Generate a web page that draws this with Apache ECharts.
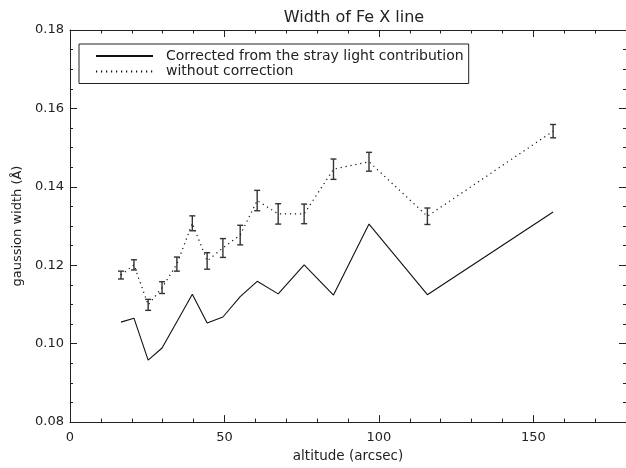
<!DOCTYPE html>
<html>
<head>
<meta charset="utf-8">
<script src="https://cdn.jsdelivr.net/npm/echarts@6/dist/echarts.min.js"></script>
<style>html,body{margin:0;padding:0;background:#fff;}#c{width:626px;height:468px;}</style>
</head>
<body>
<div id="c"></div>
<script>
const titleText = 'Width of Fe X line';
const xName = 'altitude (arcsec)';
const yName = 'gaussion width (Å)';
const seriesNames = ['Corrected from the stray light contribution', 'without correction'];

const altitude = [16.5, 20.7, 25.3, 29.8, 34.6, 39.6, 44.4, 49.5, 55.1, 60.6, 67.4, 75.8, 85.3, 96.8, 115.7, 156.4];
const corrected = [0.1055, 0.1065, 0.0958, 0.0989, 0.1056, 0.1126, 0.1053, 0.1068, 0.1120, 0.1159, 0.1127, 0.1201, 0.1124, 0.1305, 0.1125, 0.1336];
const uncorrected = [0.1175, 0.1201, 0.1099, 0.1143, 0.1203, 0.1307, 0.1211, 0.1244, 0.1277, 0.1365, 0.1331, 0.1331, 0.1445, 0.1464, 0.1325, 0.1542];
const uncorrErr = [0.0010, 0.0013, 0.0014, 0.0015, 0.0018, 0.0019, 0.0021, 0.0024, 0.0025, 0.0026, 0.0026, 0.0025, 0.0026, 0.0024, 0.0021, 0.0017];

const xMin = 0, xMax = 180, xMajor = 50, xMinor = 10;
const yMin = 0.08, yMax = 0.18, yMajor = 0.02;

const FONT = 'DejaVu Sans';
const INK = '#222';

const chart = echarts.init(document.getElementById('c'), null, {renderer: 'canvas'});

function xAxisDef(pos, interval, tickLen, showLabel, showLine) {
  return {
    type: 'value', position: pos, min: xMin, max: xMax, interval: interval,
    gridIndex: 0,
    name: (showLabel ? xName : ''), nameLocation: 'middle', nameGap: 24,
    nameTextStyle: {fontFamily: FONT, fontSize: 13.5, color: INK},
    axisLine: {show: showLine, onZero: false, lineStyle: {color: INK, width: 1}},
    axisTick: {show: true, inside: true, length: tickLen, lineStyle: {color: INK, width: 1}},
    axisLabel: {show: showLabel, margin: 9, fontFamily: FONT, fontSize: 13, color: INK, showMaxLabel: false},
    splitLine: {show: false}
  };
}
function yAxisDef(pos, showLabel) {
  return {
    type: 'value', position: pos, min: yMin, max: yMax, interval: yMajor,
    name: (showLabel ? yName : ''), nameLocation: 'middle', nameGap: 38, nameRotate: 90,
    nameTextStyle: {fontFamily: FONT, fontSize: 13, color: INK},
    axisLine: {show: true, onZero: false, lineStyle: {color: INK, width: 1}},
    axisTick: {show: true, inside: true, length: 7, lineStyle: {color: INK, width: 1}},
    minorTick: {show: true, splitNumber: 4, length: 3, lineStyle: {color: INK, width: 1}},
    axisLabel: {show: showLabel, margin: 6, fontFamily: FONT, fontSize: 13, color: INK,
      formatter: v => v.toFixed(2)},
    splitLine: {show: false}, minorSplitLine: {show: false}
  };
}

const errData = altitude.map((a, i) => [a, uncorrected[i], uncorrErr[i]]);

chart.setOption({
  animation: false,
  backgroundColor: '#fff',
  title: {text: titleText, left: 349, top: 5, textAlign: 'center',
    textStyle: {fontFamily: FONT, fontSize: 16, fontWeight: 'normal', color: INK}},
  grid: {left: 70, top: 30, width: 559.6, height: 396, containLabel: false},
  legend: {
    left: 79, top: 44, orient: 'vertical',
    data: seriesNames,
    itemWidth: 57, itemHeight: 14, itemGap: 1.5,
    padding: [5, 5, 5, 16],
    borderColor: INK, borderWidth: 1,
    selectedMode: false,
    itemStyle: {opacity: 0},
    textStyle: {fontFamily: FONT, fontSize: 14, color: INK, padding: [0, 0, 0, 8]}
  },
  xAxis: [
    xAxisDef('bottom', xMajor, 7, true, true),
    xAxisDef('bottom', xMinor, 3.5, false, false),
    xAxisDef('top', xMajor, 7, false, true),
    xAxisDef('top', xMinor, 3.5, false, false)
  ],
  yAxis: [yAxisDef('left', true), yAxisDef('right', false)],
  series: [
    {
      name: seriesNames[0], type: 'line', xAxisIndex: 0, yAxisIndex: 0,
      data: altitude.map((a, i) => [a, corrected[i]]),
      symbol: 'none', showSymbol: false,
      lineStyle: {color: '#111', width: 1.1, type: 'solid'},
      itemStyle: {color: '#111'}
    },
    {
      name: seriesNames[1], type: 'line', xAxisIndex: 0, yAxisIndex: 0,
      data: altitude.map((a, i) => [a, uncorrected[i]]),
      symbol: 'none', showSymbol: false,
      lineStyle: {color: '#111', width: 1.2, type: [1.2, 3.8]},
      itemStyle: {color: '#111'}
    },
    {
      name: 'errors', type: 'custom', xAxisIndex: 0, yAxisIndex: 0,
      data: errData,
      renderItem: function (params, api) {
        const x = api.value(0), y = api.value(1), e = api.value(2);
        const t = api.coord([x, y + e]);
        const b = api.coord([x, y - e]);
        const hw = 3;
        const st = {stroke: '#333', lineWidth: 1.4};
        return {type: 'group', children: [
          {type: 'line', shape: {x1: t[0], y1: t[1], x2: b[0], y2: b[1]}, style: st},
          {type: 'line', shape: {x1: t[0] - hw, y1: t[1], x2: t[0] + hw, y2: t[1]}, style: st},
          {type: 'line', shape: {x1: b[0] - hw, y1: b[1], x2: b[0] + hw, y2: b[1]}, style: st}
        ]};
      }
    }
  ]
});
</script>
</body>
</html>
